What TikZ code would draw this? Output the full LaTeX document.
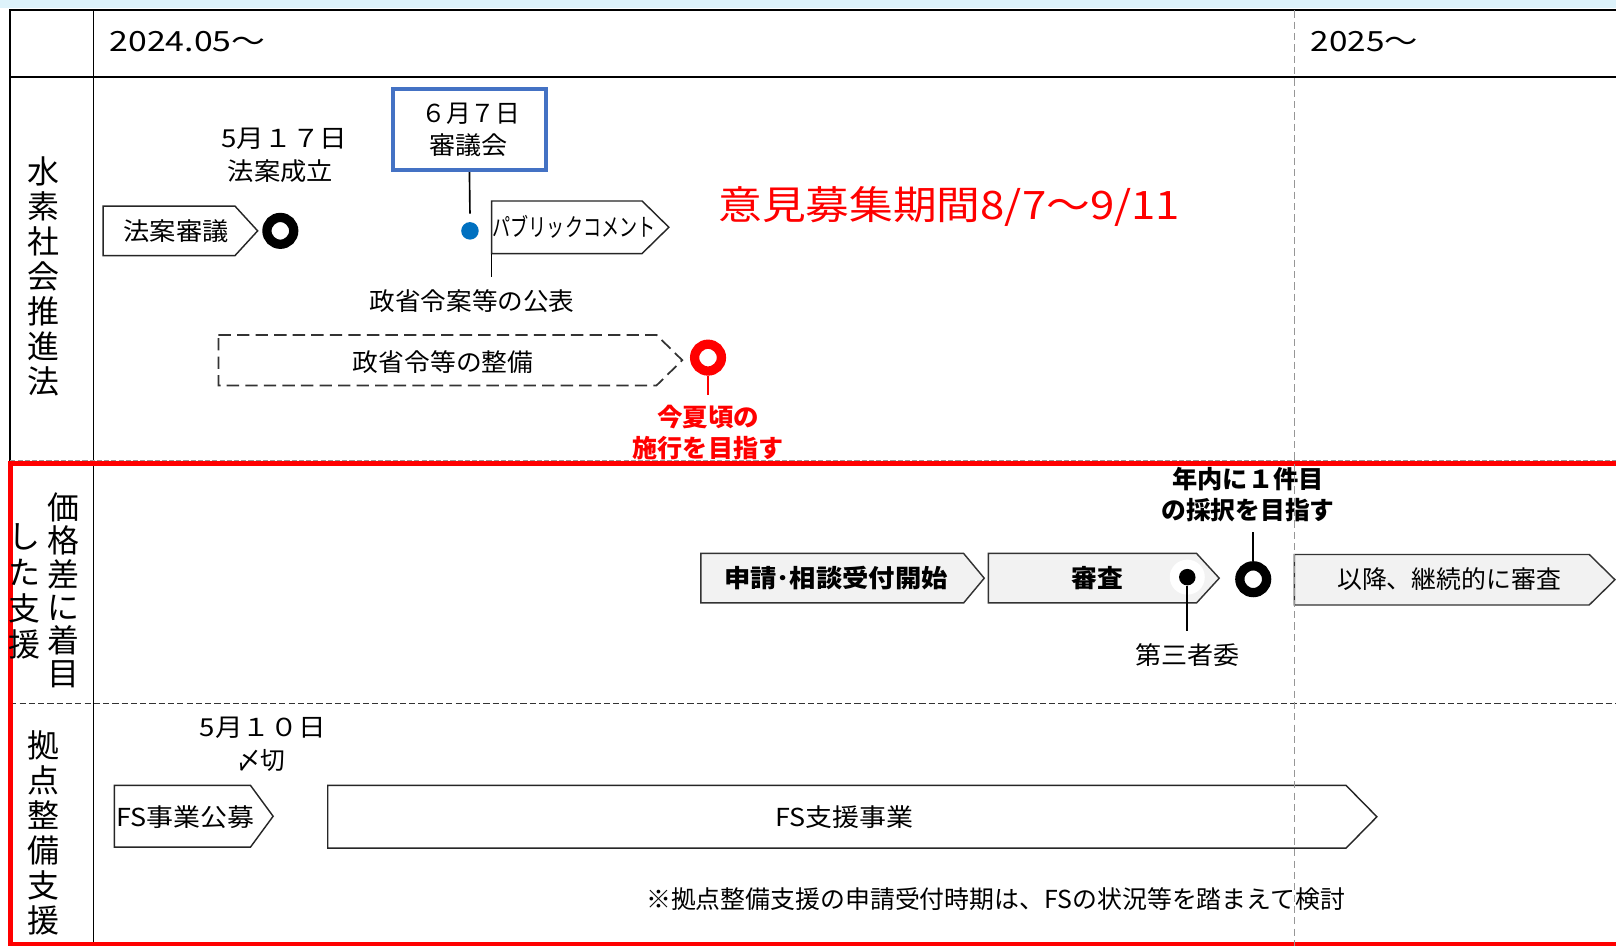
\documentclass[tikz,border=0pt]{standalone}
\usepackage{fontspec}
\setmainfont{Noto Sans CJK JP}
\usepackage{graphicx}
\newcommand\fw[2]{\resizebox{#1pt}{\height}{#2}}
\newcommand\pentbox[6]{\draw[#1] (#2,#4) -- ({#3-#6},#4) -- (#3,{(#4+#5)/2}) -- ({#3-#6},#5) -- (#2,#5) -- cycle;}
\definecolor{blueA}{RGB}{68,114,196}
\definecolor{dotblue}{RGB}{0,112,192}
\definecolor{grayF}{RGB}{242,242,242}
\definecolor{cyanbar}{RGB}{221,242,250}
\definecolor{vgray}{RGB}{150,150,150}
\begin{document}
\begin{tikzpicture}[x=1pt,y=-1pt,
  txt/.style={inner sep=0pt, font=\fontsize{24}{28}\selectfont},
  btxt/.style={inner sep=0pt, font=\fontsize{24}{28}\selectfont\bfseries},
  vlab/.style={inner sep=0pt, align=center, font=\fontsize{31}{34}\selectfont},
  frame/.style={line width=2pt, black},
  pentw/.style={draw=black!85, line width=1.4pt, fill=white},
  pentg/.style={draw=black!80, line width=1.4pt, fill=grayF},
  pentd/.style={draw=black!80, line width=1.7pt, dash pattern=on 12pt off 6pt},
  ring/.style={circle, draw, line width=9pt, inner sep=0pt, minimum size=26pt, fill=white},
  lnk/.style={line width=1.6pt, black}]
\useasboundingbox (0,0) rectangle (1568,918);
\fill[cyanbar] (0,0) rectangle (1568,8);
% table frame
\draw[frame] (1568,10) -- (10,10) -- (10,916);
\draw[frame] (10,75) -- (1568,75);
\draw[line width=1.2pt] (91,10) -- (91,916);
\draw[vgray, line width=0.8pt, dash pattern=on 5pt off 2pt] (10,447) -- (1568,447);
\draw[black!80, line width=1pt, dash pattern=on 6pt off 3pt] (10,683) -- (1568,683);
\draw[red, line width=4.5pt] (10,450) rectangle (1575,916);
% header
\node[inner sep=0pt, font=\fontsize{27}{30}\selectfont] (h1) at (182,40) {\fw{151}{2024.05～}};
\node[inner sep=0pt, font=\fontsize{27}{30}\selectfont] (h2) at (1324,40) {\fw{104}{2025～}};
% row labels
\node[vlab] (l1) at (42,268) {水\\素\\社\\会\\推\\進\\法};
\node[vlab, font=\fontsize{31}{32.2}\selectfont] (l2a) at (62,573) {価\\格\\差\\に\\着\\目};
\node[vlab, font=\fontsize{31}{35}\selectfont] (l2b) at (24,574) {し\\た\\支\\援};
\node[vlab] (l3) at (42,808) {拠\\点\\整\\備\\支\\援};
% section 1
\node[txt] (d517) at (276,135) {\fw{122}{5月１７日}};
\node[txt] (seiritsu) at (272,166) {\fw{102}{法案成立}};
\node[draw=blueA, line width=4pt, minimum width=149pt, minimum height=79pt, inner sep=0pt] (shingi) at (455.5,125.5) {};
\node[txt] (d67) at (457,110) {\fw{96}{６月７日}};
\node[txt] (shingikai) at (455,141) {\fw{76}{審議会}};
\pentbox{pentw}{100}{250}{200}{248}{22}
\node[txt] (hoan) at (171,224) {\fw{102}{法案審議}};
\node[ring] (r1) at (272,224) {};
\pentbox{pentw}{477}{649}{195}{246}{26}
\node[txt] (pub) at (557,220) {\fw{158}{パブリックコメント}};
\node[circle, fill=dotblue, inner sep=0pt, minimum size=17pt] (bdot) at (456,224) {};
\draw[lnk] (shingi.south) -- ([yshift=8pt]bdot.north);
\node[txt] (kohyo) at (458,292) {\fw{199}{政省令案等の公表}};
\coordinate (pubL) at (477,246);
\draw[lnk] (pubL) -- ([yshift=12pt]kohyo.north -| pubL);
\node[inner sep=0pt, text=red, font=\fontsize{38}{42}\selectfont] (iken) at (921,200) {\fw{448}{意見募集期間8/7～9/11}};
\pentbox{pentd}{212}{662}{325}{374}{25}
\node[txt] (seibi) at (430,351) {\fw{175}{政省令等の整備}};
\node[ring, draw=red] (r2) at (687,347) {};
\node[btxt, text=red] (konka) at (687,405) {\fw{99}{今夏頃の}};
\node[btxt, text=red] (shiko) at (687,435) {\fw{146}{施行を目指す}};
\draw[red, line width=2pt] (r2.south) -- ([yshift=10pt]konka.north);
% section 2
\pentbox{pentg}{680}{955}{537}{585}{20}
\node[btxt] (shinsei) at (811,561) {\fw{217}{申請･相談受付開始}};
\pentbox{pentg}{959}{1183}{537}{585}{22}
\node[btxt] (shinsa) at (1065,561) {\fw{50}{審査}};
\node[circle, fill=white, inner sep=0pt, minimum size=34pt] (halo) at (1152,560) {};
\node[circle, fill=black, inner sep=0pt, minimum size=16pt] (kdot) at (1152,560) {};
\node[txt] (daisan) at (1152,636) {\fw{101}{第三者委}};
\draw[lnk] (kdot.south) -- ([yshift=12pt]daisan.north);
\node[ring] (r3) at (1216,562) {};
\node[btxt] (nennai) at (1211,465) {\fw{147}{年内に１件目}};
\node[btxt] (saitaku) at (1211,495) {\fw{168}{の採択を目指す}};
\draw[lnk] (r3.north) -- ([yshift=-10pt]saitaku.south -| r3.north);
\pentbox{pentg}{1256}{1567}{538}{587}{25}
\node[txt] (ikou) at (1406,562) {\fw{217}{以降、継続的に審査}};
% section 3
\node[txt] (d510) at (255,706) {\fw{122}{5月１０日}};
\node[txt] (shime) at (253,738) {\fw{48}{〆切}};
\pentbox{pentw}{111}{265}{762}{822}{22}
\node[txt] (fskobo) at (180,793) {\fw{134}{FS事業公募}};
\pentbox{pentw}{318}{1336}{762}{823}{30}
\node[txt] (fsshien) at (819,793) {\fw{134}{FS支援事業}};
\node[txt] (note) at (966,872) {\fw{678}{※拠点整備支援の申請受付時期は、FSの状況等を踏まえて検討}};
% year divider
\draw[vgray, line width=1.2pt, dash pattern=on 7pt off 4pt] (1256,10) -- (1256,918);
\end{tikzpicture}
\end{document}
